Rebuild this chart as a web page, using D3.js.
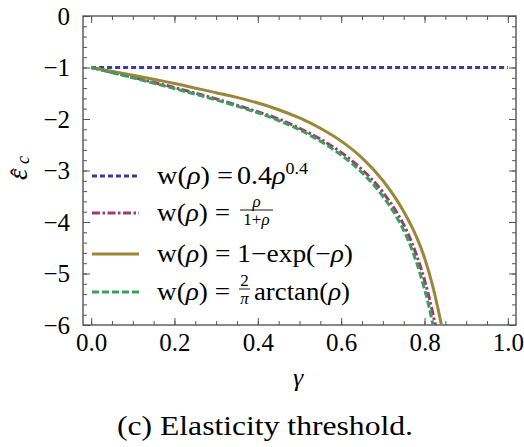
<!DOCTYPE html>
<html>
<head>
<meta charset="utf-8">
<script src="https://cdn.jsdelivr.net/npm/d3@7"></script>
<style>
  html, body { margin: 0; padding: 0; background: #fff; }
  svg { display: block; font-family: "Liberation Serif", "DejaVu Serif", serif; }
</style>
</head>
<body>
<div id="chart"></div>
<script>
// values
const xTicks = [0, 0.2, 0.4, 0.6, 0.8, 1.0];
const yTicks = [0, -1, -2, -3, -4, -5, -6];

const gammaPow = [0, 1];
const epsPow = [-1, -1];

const gammaFrac = [0, 0.1, 0.2, 0.3, 0.35, 0.4, 0.45, 0.5, 0.55, 0.6, 0.65, 0.7, 0.73, 0.75, 0.77, 0.79, 0.81, 0.83];
const epsFrac = [-1, -1.19, -1.39, -1.61, -1.73, -1.86, -2.0, -2.18, -2.39, -2.65, -2.98, -3.42, -3.77, -4.05, -4.41, -4.86, -5.43, -6.15];

const gammaExp = [0, 0.1, 0.2, 0.3, 0.35, 0.4, 0.45, 0.5, 0.55, 0.6, 0.65, 0.7, 0.75, 0.78, 0.8, 0.82, 0.839, 0.85];
const epsExp = [-1, -1.15, -1.31, -1.49, -1.58, -1.69, -1.82, -1.98, -2.18, -2.43, -2.755, -3.195, -3.795, -4.275, -4.695, -5.255, -5.94, -6.4];

const gammaAtan = [0, 0.1, 0.2, 0.3, 0.35, 0.4, 0.45, 0.5, 0.55, 0.6, 0.65, 0.7, 0.73, 0.75, 0.77, 0.79, 0.81, 0.825];
const epsAtan = [-1, -1.2, -1.41, -1.63, -1.75, -1.88, -2.03, -2.21, -2.43, -2.7, -3.04, -3.5, -3.86, -4.16, -4.54, -5.02, -5.62, -6.18];

const series = [
  { key: "pow", gamma: gammaPow, eps: epsPow, color: "#3b3ba3", dash: "5 3", width: 3 },
  { key: "frac", gamma: gammaFrac, eps: epsFrac, color: "#a0396f", dash: "8 2.5 2.5 2.5", width: 3 },
  { key: "exp", gamma: gammaExp, eps: epsExp, color: "#9b8739", dash: null, width: 3 },
  { key: "atan", gamma: gammaAtan, eps: epsAtan, color: "#3c9e5c", dash: "7 3", width: 3 },
];

const width = 524, height = 447;
const frame = { left: 83, right: 516, top: 16, bottom: 325 };
const fontFamily = "Liberation Serif";

const svg = d3.select("#chart").append("svg").attr("width", width).attr("height", height);

const x = d3.scaleLinear().domain([-0.0195, 1.0195]).range([frame.left, frame.right]);
const y = d3.scaleLinear().domain([-6, 0]).range([frame.bottom, frame.top]);

const minorX = d3.range(0, 1.0001, 0.05);
const minorY = d3.range(-6, 0.0001, 0.2);

const axisColor = "#555";

function styleAxis(g) {
  g.attr("font-family", fontFamily).attr("font-size", 25);
  g.select(".domain").remove();
  g.selectAll(".tick line").attr("stroke", axisColor).attr("stroke-width", 1);
  g.selectAll("text").attr("fill", "#000");
}

// minor ticks
svg.append("g").attr("transform", `translate(0,${frame.bottom})`)
  .call(d3.axisBottom(x).tickValues(minorX).tickSize(-4).tickFormat(() => "")).call(styleAxis);
svg.append("g").attr("transform", `translate(0,${frame.top})`)
  .call(d3.axisTop(x).tickValues(minorX).tickSize(-4).tickFormat(() => "")).call(styleAxis);
svg.append("g").attr("transform", `translate(${frame.left},0)`)
  .call(d3.axisLeft(y).tickValues(minorY).tickSize(-4).tickFormat(() => "")).call(styleAxis);
svg.append("g").attr("transform", `translate(${frame.right},0)`)
  .call(d3.axisRight(y).tickValues(minorY).tickSize(-4).tickFormat(() => "")).call(styleAxis);

// major ticks
svg.append("g").attr("transform", `translate(0,${frame.bottom})`)
  .call(d3.axisBottom(x).tickValues(xTicks).tickSizeInner(-7).tickSizeOuter(0).tickPadding(8).tickFormat(d3.format(".1f")))
  .call(styleAxis);
svg.append("g").attr("transform", `translate(0,${frame.top})`)
  .call(d3.axisTop(x).tickValues(xTicks).tickSize(-7).tickFormat(() => "")).call(styleAxis);
svg.append("g").attr("transform", `translate(${frame.left},0)`)
  .call(d3.axisLeft(y).tickValues(yTicks).tickSizeInner(-7).tickSizeOuter(0).tickPadding(13).tickFormat(d3.format("d")))
  .call(styleAxis);
svg.append("g").attr("transform", `translate(${frame.right},0)`)
  .call(d3.axisRight(y).tickValues(yTicks).tickSize(-7).tickFormat(() => "")).call(styleAxis);

svg.append("rect")
  .attr("x", frame.left).attr("y", frame.top)
  .attr("width", frame.right - frame.left).attr("height", frame.bottom - frame.top)
  .attr("fill", "none").attr("stroke", axisColor).attr("stroke-width", 1.4);

// curves
svg.append("defs").append("clipPath").attr("id", "plotClip")
  .append("rect").attr("x", frame.left).attr("y", frame.top)
  .attr("width", frame.right - frame.left).attr("height", frame.bottom - frame.top);

const line = d3.line().x(d => x(d[0])).y(d => y(d[1])).curve(d3.curveMonotoneX);
const plot = svg.append("g").attr("clip-path", "url(#plotClip)");
series.forEach(s => {
  const pts = s.gamma.map((g, i) => [g, s.eps[i]]);
  plot.append("path").datum(pts).attr("d", line)
    .attr("fill", "none").attr("stroke", s.color).attr("stroke-width", s.width)
    .attr("stroke-dasharray", s.dash);
});

// legend
const legendY = [176, 213, 254, 292];
const legendSize = 25;
const legend = svg.append("g").attr("fill", "#000").attr("font-family", fontFamily);
series.forEach((s, i) => {
  legend.append("line").attr("x1", 92).attr("x2", 139).attr("y1", legendY[i]).attr("y2", legendY[i])
    .attr("stroke", s.color).attr("stroke-width", s.width).attr("stroke-dasharray", s.dash);
});

function lead(t) {
  t.append("tspan").text("w(");
  t.append("tspan").attr("font-style", "italic").text("ρ");
  t.append("tspan").text(") = ");
  return t;
}
function rowText(i, x0, len) {
  return legend.append("text").attr("x", x0).attr("y", legendY[i] + 8)
    .attr("font-size", legendSize)
    .attr("textLength", len).attr("lengthAdjust", "spacingAndGlyphs");
}

lead(rowText(0, 157, 76));
const t0 = rowText(0, 237, 71);
t0.append("tspan").text("0.4");
t0.append("tspan").attr("font-style", "italic").text("ρ");
t0.append("tspan").attr("font-size", 16).attr("dy", -10).text("0.4");

const t2 = lead(rowText(2, 157, 196));
t2.append("tspan").text("1−exp(−");
t2.append("tspan").attr("font-style", "italic").text("ρ");
t2.append("tspan").text(")");

function fraction(i, x0, w, num, den) {
  const ly = legendY[i] - 3;
  const n = legend.append("text").attr("font-size", 17).attr("text-anchor", "middle")
    .attr("x", x0 + w / 2).attr("y", ly - 3);
  const d = legend.append("text").attr("font-size", 17).attr("text-anchor", "middle")
    .attr("x", x0 + w / 2).attr("y", ly + 15);
  num(n); den(d);
  legend.append("line").attr("x1", x0).attr("x2", x0 + w).attr("y1", ly).attr("y2", ly)
    .attr("stroke", "#000").attr("stroke-width", 0.9);
}

lead(rowText(1, 157, 73));
fraction(1, 240, 33,
  n => n.append("tspan").attr("font-style", "italic").text("ρ"),
  d => { d.append("tspan").text("1+"); d.append("tspan").attr("font-style", "italic").text("ρ"); });

lead(rowText(3, 157, 73));
fraction(3, 239, 11,
  n => n.text("2"),
  d => d.append("tspan").attr("font-style", "italic").text("π"));
const t3 = rowText(3, 254, 96);
t3.append("tspan").text("arctan(");
t3.append("tspan").attr("font-style", "italic").text("ρ");
t3.append("tspan").text(")");

// y axis label: epsilon hat, subscript c (rotated)
const yl = svg.append("g").attr("transform", "translate(27,166) rotate(-90)").attr("fill", "#000")
  .attr("font-family", fontFamily);
yl.append("text").attr("x", -14).attr("y", 0).attr("font-size", 28).attr("font-style", "italic").text("ε");
yl.append("text").attr("x", -6).attr("y", 0).attr("text-anchor", "middle").attr("font-size", 24).text("ˆ");
yl.append("text").attr("x", 2).attr("y", 2).attr("font-size", 18).attr("font-style", "italic").text("c");

svg.append("text").attr("x", 298).attr("y", 386).attr("text-anchor", "middle")
  .attr("font-size", 26).attr("font-style", "italic").attr("fill", "#000").text("γ");

svg.append("text").attr("x", 265).attr("y", 435).attr("text-anchor", "middle")
  .attr("font-size", 27).attr("fill", "#000")
  .attr("textLength", 296).attr("lengthAdjust", "spacingAndGlyphs")
  .text("(c) Elasticity threshold.");
</script>
</body>
</html>
